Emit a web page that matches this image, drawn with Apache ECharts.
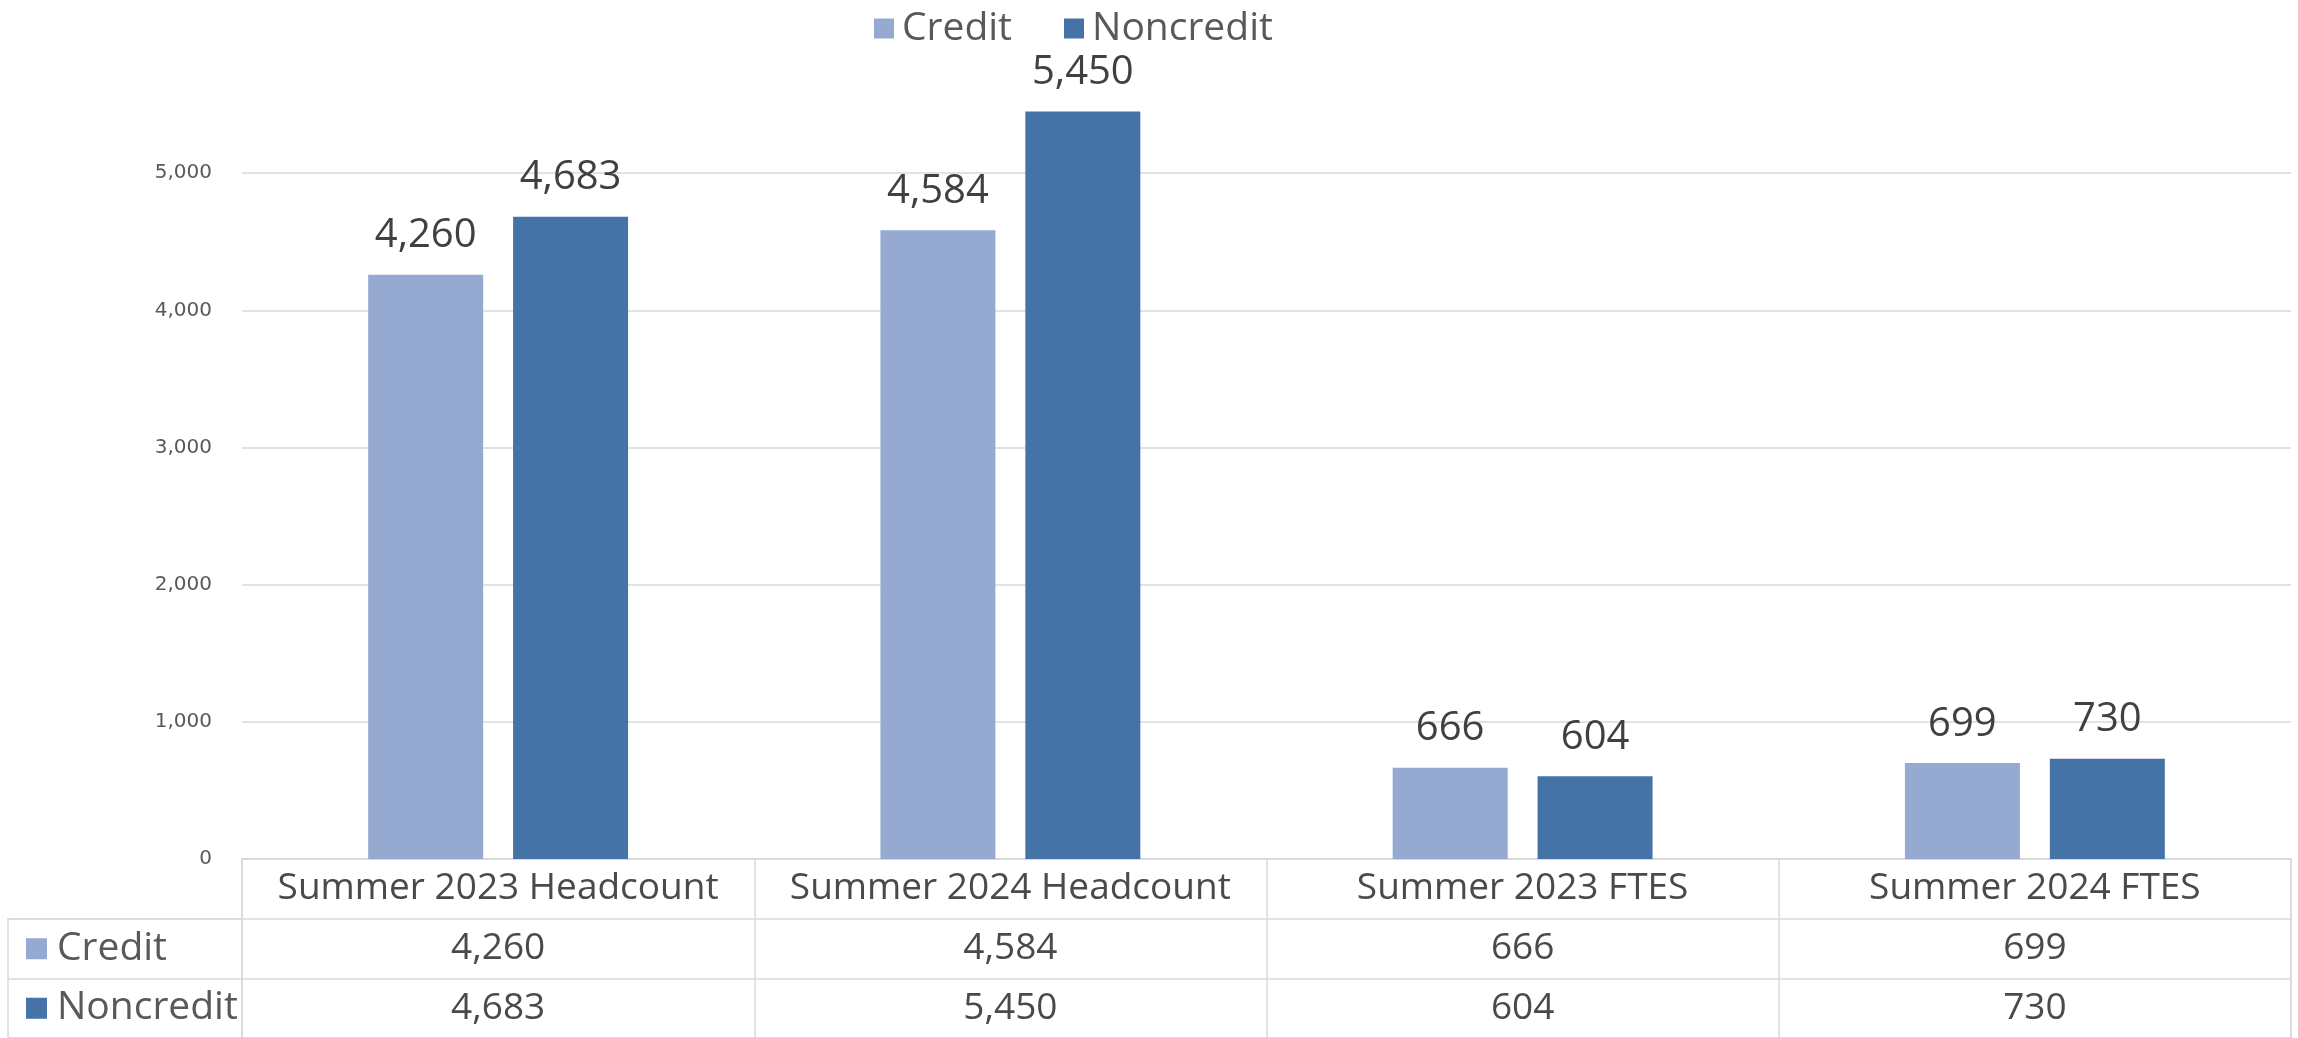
<!DOCTYPE html>
<html>
<head>
<meta charset="utf-8">
<title>Credit and Noncredit Headcount and FTES</title>
<script src="https://cdn.jsdelivr.net/npm/echarts@6/dist/echarts.min.js"></script>
<style>
  html, body { margin: 0; padding: 0; background: #ffffff; }
  #chart { width: 2298px; height: 1038px; }
</style>
</head>
<body>
<div id="chart"></div>
<script>
// Summer enrollment: headcount and FTES, credit vs noncredit
var categories = ['Summer 2023 Headcount', 'Summer 2024 Headcount', 'Summer 2023 FTES', 'Summer 2024 FTES'];
var seriesNames = ['Credit', 'Noncredit'];
var creditValues = [4260, 4584, 666, 699];
var noncreditValues = [4683, 5450, 604, 730];
var yMin = 0;
var yMax = 6000;
var yStep = 1000;

var colors = ['#95A9D1', '#4572A7'];
var gridColor = '#d9d9d9';
var textFont = '"Open Sans", "Liberation Sans", sans-serif';
var textSize = 39;
var tableSize = 37;

function fmt(v) { return Number(v).toLocaleString('en-US'); }

// cell texts of the data table: header row, then one row per series
var tableRows = [categories, creditValues.map(fmt), noncreditValues.map(fmt)];
var tableCells = [];
tableRows.forEach(function (row, r) {
  row.forEach(function (text, c) { tableCells.push([c, r, text]); });
});

var seriesValues = [creditValues, noncreditValues];
var rowRich = {
  t: { fontFamily: textFont, fontSize: textSize, color: '#595959', padding: [0, 0, 0, 10] }
};
seriesNames.forEach(function (n, i) {
  rowRich['s' + i] = { width: 21, height: 21, backgroundColor: colors[i] };
});

var chart = echarts.init(document.getElementById('chart'), null, { renderer: 'canvas' });

chart.setOption({
  animation: false,
  backgroundColor: '#ffffff',
  color: colors,
  legend: {
    data: seriesNames,
    left: 869,
    top: 4,
    icon: 'rect',
    itemWidth: 20,
    itemHeight: 20,
    itemGap: 52,
    textStyle: { fontFamily: textFont, fontSize: textSize, color: '#595959', padding: [0, 0, 0, 3] }
  },
  grid: [
    { left: 242, right: 7, top: 36, bottom: 179 },
    { left: 242, right: 7, top: 859, bottom: -1, show: true, borderColor: gridColor, borderWidth: 1.5, backgroundColor: 'transparent' },
    { left: 8, width: 234, top: 919, bottom: -1, show: true, borderColor: gridColor, borderWidth: 1.5, backgroundColor: 'transparent' }
  ],
  xAxis: [
    {
      gridIndex: 0, type: 'category', data: categories,
      axisLine: { show: true, lineStyle: { color: gridColor, width: 1.5 } },
      axisTick: { show: false }, axisLabel: { show: false }, splitLine: { show: false }
    },
    {
      gridIndex: 1, type: 'category', data: categories,
      axisLine: { show: false }, axisTick: { show: false }, axisLabel: { show: false },
      splitLine: { show: true, lineStyle: { color: gridColor, width: 1.5 } }
    },
    { gridIndex: 2, type: 'category', data: [''], show: false }
  ],
  yAxis: [
    {
      gridIndex: 0, type: 'value', min: yMin, max: yMax, interval: yStep,
      axisLine: { show: false }, axisTick: { show: false },
      axisLabel: {
        margin: 30, color: '#595959', fontFamily: '"DejaVu Sans", Verdana, sans-serif', fontSize: 20,
        showMaxLabel: false, formatter: fmt
      },
      splitLine: { show: true, showMaxLine: false, lineStyle: { color: gridColor, width: 1.5 } }
    },
    {
      gridIndex: 1, type: 'category', inverse: true, data: ['', seriesNames[0], seriesNames[1]],
      axisLine: { show: false }, axisTick: { show: false }, axisLabel: { show: false },
      splitLine: { show: true, lineStyle: { color: gridColor, width: 1.5 } }
    },
    {
      gridIndex: 2, type: 'category', inverse: true, data: seriesNames,
      axisLine: { show: false }, axisTick: { show: false },
      axisLabel: {
        inside: true, margin: 18, align: 'left',
        formatter: function (name, idx) { return '{s' + idx + '|}{t|' + name + '}'; },
        rich: rowRich
      },
      splitLine: { show: true, lineStyle: { color: gridColor, width: 1.5 } }
    }
  ],
  series: seriesNames.map(function (name, i) {
    return {
      name: name,
      type: 'bar',
      xAxisIndex: 0,
      yAxisIndex: 0,
      data: seriesValues[i],
      barWidth: 115,
      barGap: '26%',
      itemStyle: { color: colors[i] },
      label: {
        show: true, position: 'top', distance: 19,
        fontFamily: textFont, fontSize: textSize + 1, color: '#404040',
        formatter: function (p) { return fmt(p.value); }
      }
    };
  }).concat([{
    name: 'table',
    type: 'scatter',
    xAxisIndex: 1,
    yAxisIndex: 1,
    silent: true,
    symbol: 'circle',
    symbolSize: 1,
    itemStyle: { color: 'rgba(255,255,255,0)' },
    data: tableCells,
    label: {
      show: true, position: 'inside', opacity: 1,
      fontFamily: textFont, fontSize: tableSize, color: '#4a4a4a',
      formatter: function (p) { return p.value[2]; }
    },
    labelLayout: { hideOverlap: false }
  }])
});
</script>
</body>
</html>
